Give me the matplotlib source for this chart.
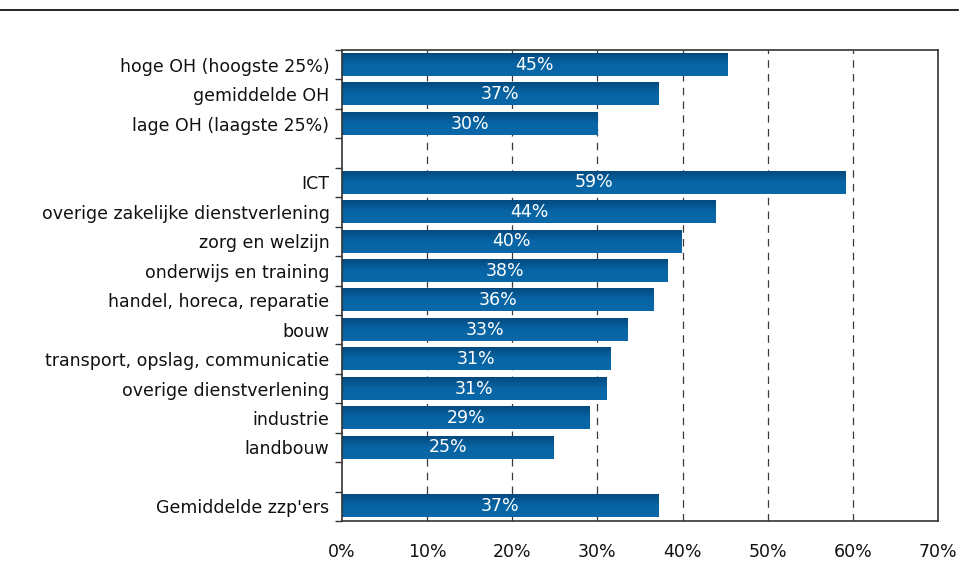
import matplotlib
matplotlib.use("Agg")
import matplotlib.pyplot as plt
import numpy as np
from matplotlib.colors import LinearSegmentedColormap
from matplotlib.lines import Line2D

categories = ["hoge OH (hoogste 25%)", "gemiddelde OH", "lage OH (laagste 25%)", "",
              "ICT", "overige zakelijke dienstverlening", "zorg en welzijn",
              "onderwijs en training", "handel, horeca, reparatie", "bouw",
              "transport, opslag, communicatie", "overige dienstverlening",
              "industrie", "landbouw", "", "Gemiddelde zzp'ers"]
values = [45.3, 37.2, 30.0, None,
          59.1, 43.9, 39.9, 38.2, 36.6, 33.5, 31.5, 31.1, 29.1, 24.8, None,
          37.2]
value_labels = ["45%", "37%", "30%", "", "59%", "44%", "40%", "38%", "36%", "33%",
                "31%", "31%", "29%", "25%", "", "37%"]
xticks = [0, 10, 20, 30, 40, 50, 60, 70]
xtick_labels = ["0%", "10%", "20%", "30%", "40%", "50%", "60%", "70%"]

plt.rcParams['font.family'] = ['DejaVu Sans']
fig = plt.figure(figsize=(9.7, 5.71), dpi=100)
ax = fig.add_axes([342/970, 50/571, (938-342)/970, (521-50)/571])

n = len(categories)
fs = 12.5

for x in xticks[1:-1]:
    ax.axvline(x, color="#3a3a3a", lw=0.9, ls=(0, (6, 5)), zorder=0)

cmap = LinearSegmentedColormap.from_list("b", ["#034a7f", "#0865a5", "#0a68a8"])
grad = np.linspace(0, 1, 64).reshape(-1, 1)
h = 0.76
for i, (v, lab) in enumerate(zip(values, value_labels)):
    if v is None:
        continue
    ax.imshow(grad, cmap=cmap, aspect="auto", extent=(0, v, i + h/2, i - h/2),
              interpolation="bilinear", zorder=2)
    ax.text(v / 2, i, lab, color="white", ha="center", va="center",
            fontsize=fs, zorder=3)
ax.set_xlim(0, 70)
ax.set_ylim(n - 0.5, -0.5)

ax.set_yticks(range(n))
ax.set_yticklabels(categories, fontsize=fs, color="#111111")
ax.tick_params(axis="y", which="major", length=0, pad=9)
ax.set_yticks(np.arange(-0.5, n, 1), minor=True)
ax.tick_params(axis="y", which="minor", length=5, width=1, color="#333333", direction="out")

ax.set_xticks(xticks)
ax.set_xticklabels(xtick_labels, fontsize=fs, color="#111111")
ax.tick_params(axis="x", which="major", length=0, pad=15.5)

for s in ax.spines.values():
    s.set_color("#333333")
    s.set_linewidth(1.2)

fig.add_artist(Line2D([0, 0.988], [1 - 10/571, 1 - 10/571], color="black", lw=1.2,
                      transform=fig.transFigure))

fig.savefig("out.png", dpi=100)
